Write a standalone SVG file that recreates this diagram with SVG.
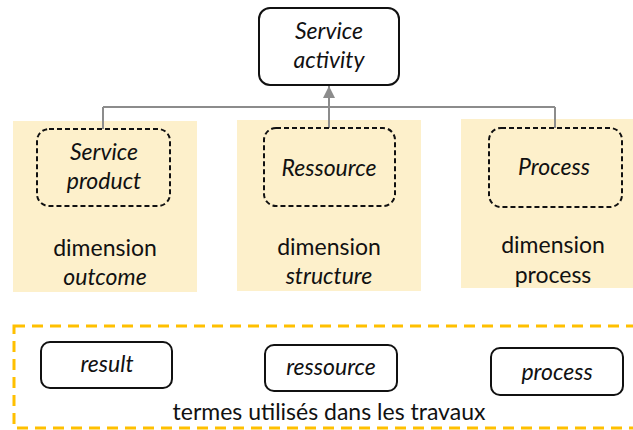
<svg xmlns="http://www.w3.org/2000/svg" width="633" height="430" viewBox="0 0 633 430">
<style>
text{font-family:Lato,"Liberation Sans",sans-serif;font-size:23px;fill:#111;text-anchor:middle}
.it{font-style:italic}
.panel{fill:#FDF0CB;stroke:none}
.solid{fill:#fff;stroke:#111;stroke-width:2}
.dash{fill:none;stroke:#111;stroke-width:2;stroke-dasharray:5 3}
.conn{fill:none;stroke:#8c8c8c;stroke-width:2}
.frame{fill:none;stroke:#FFC000;stroke-width:3;stroke-dasharray:11 7}
</style>
<defs>
<marker id="arr" viewBox="0 0 12 12" refX="12" refY="6" markerWidth="12" markerHeight="12" markerUnits="userSpaceOnUse" orient="auto">
<path d="M0,0 L12,6 L0,12 z" fill="#8c8c8c"/>
</marker>
</defs>
<g id="panels">
<rect class="panel" x="13" y="121" width="184" height="171"/>
<rect class="panel" x="237" y="120" width="184" height="171"/>
<rect class="panel" x="461" y="119" width="180" height="169"/>
</g>
<g id="connectors">
<line class="conn" x1="103" y1="107" x2="555" y2="107"/>
<line class="conn" x1="103" y1="107" x2="103" y2="129"/>
<line class="conn" x1="329" y1="128" x2="329" y2="86" marker-end="url(#arr)"/>
<line class="conn" x1="555" y1="107" x2="555" y2="128"/>
</g>
<g id="service-activity">
<rect class="solid" x="259" y="8" width="140" height="77" rx="11"/>
<text class="it" x="329" y="39">Service</text>
<text class="it" x="329" y="68">activity</text>
</g>
<g id="service-product">
<rect class="dash" x="37" y="129" width="133" height="77" rx="12"/>
<text class="it" x="104" y="160">Service</text>
<text class="it" x="104" y="189">product</text>
</g>
<g id="ressource">
<rect class="dash" x="264" y="128" width="131" height="78" rx="12"/>
<text class="it" x="329" y="176">Ressource</text>
</g>
<g id="process">
<rect class="dash" x="489" y="128" width="133" height="79" rx="12"/>
<text class="it" x="554" y="175">Process</text>
</g>
<g id="dim-outcome">
<text x="105" y="256">dimension</text>
<text class="it" x="105" y="285">outcome</text>
</g>
<g id="dim-structure">
<text x="329" y="255">dimension</text>
<text class="it" x="329" y="284">structure</text>
</g>
<g id="dim-process">
<text x="553" y="253">dimension</text>
<text x="553" y="283">process</text>
</g>
<g id="terms">
<rect class="frame" x="14" y="326" width="640" height="102"/>
<text x="329" y="420">termes utilisés dans les travaux</text>
</g>
<g id="result">
<rect class="solid" x="41" y="342" width="131" height="46" rx="9"/>
<text class="it" x="107" y="372">result</text>
</g>
<g id="ressource-term">
<rect class="solid" x="265" y="345" width="132" height="46" rx="9"/>
<text class="it" x="331" y="375">ressource</text>
</g>
<g id="process-term">
<rect class="solid" x="491" y="348" width="132" height="47" rx="9"/>
<text class="it" x="557" y="380">process</text>
</g>
</svg>
